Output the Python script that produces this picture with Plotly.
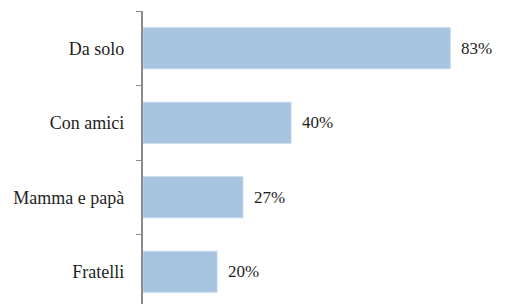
import plotly.graph_objects as go

categories = ["Da solo", "Con amici", "Mamma e papà", "Fratelli"]
values = [83, 40, 27, 20]
value_labels = ["83%", "40%", "27%", "20%"]

FONT = "Liberation Serif"
TXT = "#1E1E1E"

fig = go.Figure()
fig.add_trace(go.Bar(
    x=values, y=categories, orientation="h",
    marker=dict(color="#A6C3E0", line=dict(color="#C2D6EA", width=1)),
    hoverinfo="skip",
))
for c, v, t in zip(categories, values, value_labels):
    fig.add_annotation(x=v, y=c, text=t, showarrow=False, xanchor="left",
                       xshift=9, font=dict(family=FONT, size=17, color=TXT))

fig.update_layout(
    width=507, height=304,
    margin=dict(l=135, r=0, t=3, b=0, autoexpand=False),
    paper_bgcolor="white", plot_bgcolor="white",
    bargap=0.45,
    showlegend=False,
    xaxis=dict(range=[0, 100.5], visible=False),
    yaxis=dict(
        type="category", categoryorder="array", categoryarray=categories,
        range=[3.54, -0.5],
        showline=True, linecolor="#8C8C8C", linewidth=1.5,
        ticks="outside", ticklen=5, tickcolor="#8C8C8C", tickwidth=1,
        tickson="boundaries", showgrid=False, zeroline=False,
        ticksuffix="\u00a0\u00a0\u00a0",
        tickfont=dict(family=FONT, size=18, color=TXT),
    ),
)
fig.write_html("out.html")
